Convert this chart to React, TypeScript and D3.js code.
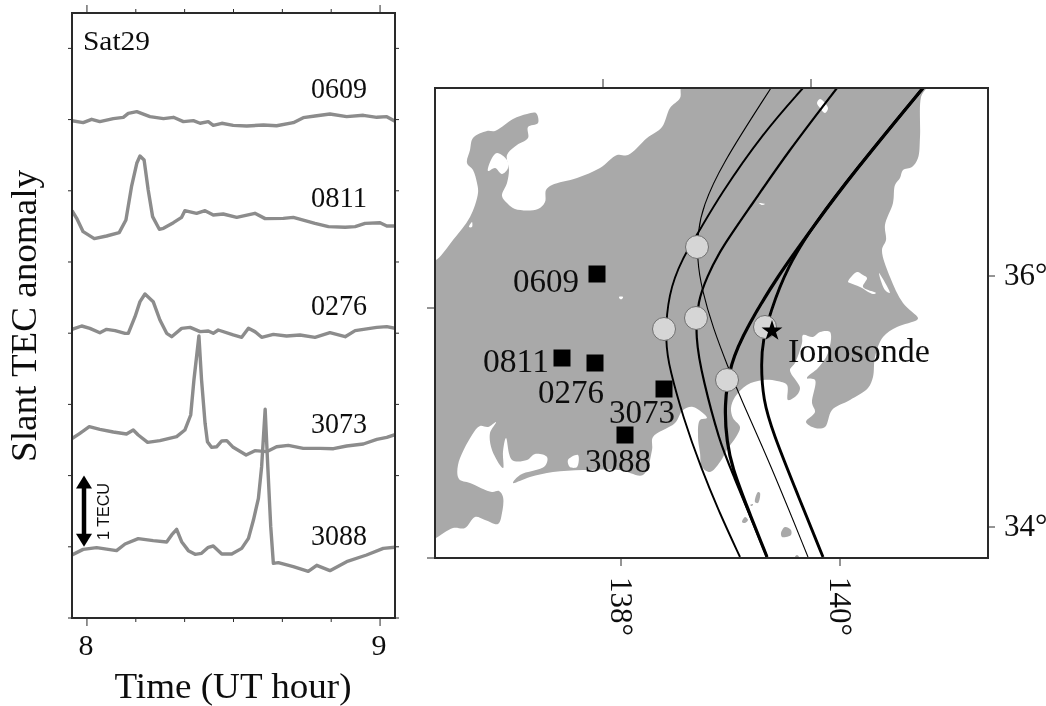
import React from "react";
import * as d3 from "d3";

// ---- Left panel: slant TEC anomaly (hours UT, TECU with station offset)
const t0609 = [7.949,7.987,8.016,8.044,8.09,8.124,8.141,8.17,8.215,8.261,8.295,8.329,8.363,8.386,8.414,8.431,8.46,8.499,8.545,8.602,8.647,8.704,8.738,8.778,8.829,8.886,8.943,8.989,9.023,9.051];
const v0609 = [6.985,6.957,7.004,6.971,7.013,7.032,7.088,7.111,7.041,7.013,7.032,6.971,6.985,6.948,6.971,6.919,6.948,6.919,6.91,6.924,6.914,6.957,7.027,7.051,7.079,7.041,7.06,7.032,7.041,6.976];
const t0811 = [7.949,7.965,7.987,8.025,8.067,8.11,8.133,8.152,8.17,8.181,8.195,8.209,8.224,8.247,8.261,8.295,8.323,8.334,8.374,8.403,8.431,8.465,8.511,8.573,8.608,8.67,8.704,8.778,8.824,8.881,8.915,8.949,9.0,9.023,9.051];
const v0811 = [5.721,5.613,5.426,5.328,5.365,5.412,5.59,6.058,6.386,6.489,6.433,6.011,5.637,5.459,5.473,5.552,5.627,5.721,5.684,5.721,5.66,5.674,5.627,5.684,5.609,5.613,5.627,5.543,5.496,5.487,5.496,5.543,5.552,5.506,5.506];
const t0276 = [7.949,7.982,8.01,8.044,8.067,8.096,8.13,8.141,8.164,8.181,8.198,8.226,8.249,8.272,8.289,8.323,8.352,8.386,8.414,8.431,8.448,8.499,8.528,8.551,8.573,8.596,8.636,8.681,8.727,8.778,8.829,8.881,8.915,8.966,8.989,9.023,9.051];
const v0276 = [4.054,4.101,4.068,4.007,4.054,4.036,3.998,3.998,4.232,4.443,4.551,4.443,4.185,3.998,3.951,4.068,4.082,4.022,4.031,3.998,4.045,3.975,3.942,4.068,4.022,3.942,3.984,3.961,3.975,3.942,4.007,3.951,4.036,4.068,4.082,4.092,4.068];
const t3073 = [7.949,7.976,8.008,8.044,8.09,8.135,8.158,8.175,8.207,8.249,8.306,8.334,8.354,8.365,8.382,8.391,8.403,8.411,8.425,8.443,8.46,8.477,8.499,8.543,8.573,8.613,8.647,8.687,8.738,8.795,8.841,8.886,8.943,8.989,9.023,9.051];
const v3073 = [2.519,2.594,2.687,2.65,2.612,2.584,2.64,2.57,2.467,2.491,2.547,2.64,2.851,3.343,3.961,3.343,2.734,2.477,2.397,2.406,2.486,2.491,2.397,2.289,2.35,2.336,2.406,2.425,2.383,2.383,2.378,2.416,2.444,2.509,2.537,2.575];
const t3088 = [7.949,7.987,8.033,8.101,8.13,8.175,8.226,8.272,8.289,8.306,8.323,8.346,8.369,8.391,8.414,8.431,8.46,8.494,8.528,8.551,8.568,8.585,8.596,8.608,8.617,8.627,8.636,8.653,8.704,8.755,8.784,8.829,8.886,8.954,9.011,9.051];
const v3088 = [0.885,0.964,0.988,0.946,1.039,1.114,1.086,1.067,1.166,1.245,1.072,0.946,0.894,0.908,0.993,1.011,0.899,0.899,0.978,1.119,1.376,1.681,2.125,2.931,2.125,1.283,0.768,0.777,0.721,0.655,0.74,0.665,0.791,0.885,0.978,0.993];
const stationLabels = ["0609","0811","0276","3073","3088"];
const stationLabelV = [7.3,5.77,4.25,2.6,1.02];
const timeMajor = [8,9];
const timeMinor = [8.1667,8.3333,8.5,8.6667,8.8333];
const anomalyTicks = [0,1,2,3,4,5,6,7,8];

// ---- Right panel: map, in map units measured from the frame's top-left
type P = [number, number];
const land: P[] = [[-4,172],[1,172],[18,152],[35,129],[43,105],[42,95],[38,82],[32,75],[35,62],[38,50],[52,43],[60,43],[78,31],[92,26],[101,25],[103,35],[93,39],[93,50],[82,57],[72,67],[74,82],[72,95],[67,108],[72,115],[80,121],[103,121],[110,114],[111,102],[117,97],[142,90],[165,80],[182,67],[193,67],[212,50],[227,39],[235,20],[245,10],[248,-4],[492,-4],[486,9],[485,49],[483,70],[477,79],[468,82],[465,90],[460,97],[458,115],[450,137],[451,152],[447,162],[455,189],[468,215],[483,230],[482,232],[462,239],[448,249],[440,269],[438,289],[433,300],[415,312],[397,322],[390,339],[380,340],[371,334],[380,324],[377,315],[380,292],[372,290],[383,280],[393,265],[395,244],[385,244],[378,249],[368,247],[367,255],[360,275],[355,282],[362,294],[365,300],[362,307],[353,312],[352,297],[342,293],[328,292],[312,297],[300,309],[296,320],[298,330],[305,339],[301,349],[293,360],[285,374],[275,384],[267,379],[265,365],[263,349],[265,332],[272,330],[258,319],[248,322],[240,335],[218,349],[217,362],[208,387],[185,382],[148,382],[118,384],[95,389],[78,395],[85,387],[110,378],[112,369],[100,366],[92,372],[77,372],[71,350],[68,364],[68,380],[57,362],[55,345],[61,334],[53,339],[45,338],[37,347],[23,377],[24,391],[35,395],[57,404],[64,403],[68,409],[67,425],[63,436],[50,432],[40,429],[30,440],[18,440],[1,450],[-4,452]];
const islands: P[][] = [
  [[346,445],[350,439],[356,442],[356,447],[351,449],[347,449]],
  [[320,414],[323,404],[325,405],[323,415]],
  [[307,434],[310,429],[313,432],[310,435]],
  [[315,417],[318,416],[317,418]],
  [[360,469],[362,467],[364,469]],
];
const lakes: P[][] = [
  [[57,70],[62,65],[72,72],[73,80],[67,86],[60,80],[53,83]],
  [[34,139],[37,134],[37,139]],
  [[184,209],[188,209],[187,211],[185,211]],
  [[382,15],[385,11],[393,20],[390,25],[385,20]],
  [[324,115],[330,116],[327,117]],
  [[413,194],[422,184],[428,187],[432,190],[428,199],[441,205],[438,206],[425,199],[415,195]],
  [[444,185],[455,205],[450,202]],
  [[133,372],[143,367],[142,379],[135,379]],
];
const track0609: P[] = [[336,0],[285,79],[268,119],[263,142],[262,172],[267,202],[278,240],[293,279],[305,309],[335,375],[373,469]];
const track0811: P[] = [[368,0],[328,45],[285,107],[262,147],[248,169],[233,205],[230,255],[235,282],[248,329],[266,380],[285,426],[305,469]];
const track0276: P[] = [[402,0],[352,65],[318,115],[285,162],[272,189],[263,212],[260,249],[268,292],[285,355],[295,379],[332,469]];
const track3073: P[] = [[488,0],[418,85],[378,139],[342,189],[312,239],[295,275],[289,319],[292,355],[297,379],[312,419],[332,469]];
const track3088: P[] = [[488,0],[418,85],[380,135],[352,179],[335,225],[328,252],[326,275],[328,312],[338,345],[362,405],[388,469]];
const trackWidths = [1.1,1.9,2.2,3.2,2.9];
const ippPoints: P[] = [[262,159],[229,241],[261,230],[292,292],[330,239]];
const stationPoints: P[] = [[162,186],[127,270],[160,275],[229,301],[190,347]];
const mapLabels = ["0609","0811","0276","3073","3088"];
const mapLabelPos: P[] = [[78,204],[48,284],[103,315],[174,335],[150,384]];
const ionosonde: P = [337,243];
const lonTicks = [138,140];
const latTicks = [34,36];

const zip = (a: number[], b: number[]): P[] => a.map((t, i) => [t, b[i]]);
const serif = "'Liberation Serif', serif";

export default function App() {
  const x = d3.scaleLinear().domain([7.949, 9.051]).range([72, 395]);
  const y = d3.scaleLinear().domain([0, 8.497]).range([618, 13]);
  const trace = d3.line<P>().x(d => x(d[0])).y(d => y(d[1]));
  const series = [zip(t0609, v0609), zip(t0811, v0811), zip(t0276, v0276), zip(t3073, v3073), zip(t3088, v3088)];

  const mx = d3.scaleLinear().domain([0, 553]).range([435, 988]);
  const my = d3.scaleLinear().domain([0, 470]).range([88, 558]);
  const poly = d3.line<P>().x(d => mx(d[0])).y(d => my(d[1])).curve(d3.curveCatmullRomClosed.alpha(0.5));
  const curve = d3.line<P>().x(d => mx(d[0])).y(d => my(d[1])).curve(d3.curveBasis);
  const lonBottom = d3.scaleLinear().domain([138, 140]).range([186, 405]);
  const lonTop = d3.scaleLinear().domain([138, 140]).range([168, 376]);
  const latRight = d3.scaleLinear().domain([34, 36]).range([439, 188]);
  const latLeft = d3.scaleLinear().domain([34, 36]).range([470, 220]);
  const tracks = [track0609, track0811, track0276, track3073, track3088];
  const star = d3.symbol().type(d3.symbolStar).size(135)() as string;
  const frameC = "#2a2a2a";

  return (
    <svg width={1046} height={706} style={{ position: "absolute", left: 0, top: 0, background: "#fff" }}>
      <defs>
        <clipPath id="mapClip"><rect x={435} y={88} width={553} height={470} /></clipPath>
        <clipPath id="plotClip"><rect x={72} y={13} width={323} height={605} /></clipPath>
        <filter id="soft" x="0" y="0" width="100%" height="100%"><feGaussianBlur stdDeviation={0.45} /></filter>
      </defs>
      <g filter="url(#soft)">
      <rect x={0} y={0} width={1046} height={706} fill="#fff" />

      {/* left panel */}
      <g clipPath="url(#plotClip)">
        {series.map((s, i) => (
          <path key={i} d={trace(s) as string} fill="none" stroke="#8c8c8c" strokeWidth={3.4} strokeLinejoin="round" />
        ))}
      </g>
      <rect x={72} y={13} width={323} height={605} fill="none" stroke={frameC} strokeWidth={2} />
      {timeMajor.map(t => (
        <g key={t} stroke={frameC} strokeWidth={1}>
          <line x1={x(t)} x2={x(t)} y1={13} y2={5} />
          <line x1={x(t)} x2={x(t)} y1={618} y2={626} />
        </g>
      ))}
      {timeMinor.map(t => (
        <g key={t} stroke={frameC} strokeWidth={1}>
          <line x1={x(t)} x2={x(t)} y1={13} y2={9} />
          <line x1={x(t)} x2={x(t)} y1={618} y2={622} />
        </g>
      ))}
      {anomalyTicks.map(v => (
        <g key={v} stroke={frameC} strokeWidth={1}>
          <line x1={68} x2={72} y1={y(v)} y2={y(v)} />
          <line x1={395} x2={399} y1={y(v)} y2={y(v)} />
        </g>
      ))}
      {timeMajor.map(t => (
        <text key={t} x={x(t) - 1} y={655} textAnchor="middle" fontFamily={serif} fontSize={30} fill="#111">{t}</text>
      ))}
      <text x={233} y={698} textAnchor="middle" fontFamily={serif} fontSize={36} textLength={237} lengthAdjust="spacingAndGlyphs" fill="#111">Time (UT hour)</text>
      <text transform="translate(36,316) rotate(-90)" textAnchor="middle" fontFamily={serif} fontSize={36} textLength={292} lengthAdjust="spacingAndGlyphs" fill="#111">Slant TEC anomaly</text>
      <text x={83} y={50} fontFamily={serif} fontSize={28} textLength={67} lengthAdjust="spacingAndGlyphs" fill="#111">Sat29</text>
      {stationLabels.map((s, i) => (
        <text key={s} x={367} y={y(stationLabelV[i])} textAnchor="end" fontFamily={serif} fontSize={29} textLength={56} lengthAdjust="spacingAndGlyphs" fill="#111">{s}</text>
      ))}
      <g fill="#000" stroke="#000">
        <line x1={84} x2={84} y1={y(2)+10} y2={y(1)-10} strokeWidth={4.5} />
        <path d={d3.line()([[84,y(2)],[76,y(2)+13],[92,y(2)+13]]) + "Z"} stroke="none" />
        <path d={d3.line()([[84,y(1)],[76,y(1)-13],[92,y(1)-13]]) + "Z"} stroke="none" />
      </g>
      <text transform="translate(108.5,540) rotate(-90)" fontFamily="'Liberation Sans', sans-serif" fontSize={17} textLength={57} lengthAdjust="spacingAndGlyphs" fill="#111">1 TECU</text>

      {/* right panel */}
      <g clipPath="url(#mapClip)">
        <path d={poly(land) as string} fill="#a9a9a9" />
        {lakes.map((l, i) => <path key={i} d={poly(l) as string} fill="#fff" />)}
        {islands.map((l, i) => <path key={i} d={poly(l) as string} fill="#a9a9a9" />)}
        {tracks.map((t, i) => (
          <path key={i} d={curve(t) as string} fill="none" stroke="#000" strokeWidth={trackWidths[i]} />
        ))}
      </g>
      <rect x={435} y={88} width={553} height={470} fill="none" stroke={frameC} strokeWidth={2} />
      {lonTicks.map(l => (
        <g key={l} stroke={frameC} strokeWidth={1}>
          <line x1={mx(lonTop(l))} x2={mx(lonTop(l))} y1={88} y2={79} />
          <line x1={mx(lonBottom(l))} x2={mx(lonBottom(l))} y1={558} y2={566} />
        </g>
      ))}
      {latTicks.map(l => (
        <g key={l} stroke={frameC} strokeWidth={1}>
          <line x1={427} x2={435} y1={my(latLeft(l))} y2={my(latLeft(l))} />
          <line x1={988} x2={995} y1={my(latRight(l))} y2={my(latRight(l))} />
          <text x={1004} y={my(latRight(l)) + 9} stroke="none" fontFamily={serif} fontSize={31} fill="#111">{l}°</text>
        </g>
      ))}
      {lonTicks.map(l => (
        <text key={l} transform={`translate(${mx(lonBottom(l)) - 10},577) rotate(90)`} fontFamily={serif} fontSize={31} fill="#111">{l}°</text>
      ))}
      {stationPoints.map((p, i) => (
        <rect key={i} x={mx(p[0]) - 8.5} y={my(p[1]) - 8.5} width={17} height={17} fill="#000" />
      ))}
      {ippPoints.map((p, i) => (
        <circle key={i} cx={mx(p[0])} cy={my(p[1])} r={11.5} fill="#d6d6d6" stroke="#6e6e6e" strokeWidth={1} />
      ))}
      <path d={star} transform={`translate(${mx(ionosonde[0])},${my(ionosonde[1])})`} fill="#000" />
      {mapLabels.map((s, i) => (
        <text key={s} x={mx(mapLabelPos[i][0])} y={my(mapLabelPos[i][1])} fontFamily={serif} fontSize={33} textLength={66} lengthAdjust="spacingAndGlyphs" fill="#111">{s}</text>
      ))}
      <text x={788} y={362} fontFamily={serif} fontSize={33} textLength={142} lengthAdjust="spacingAndGlyphs" fill="#111">Ionosonde</text>
      </g>
    </svg>
  );
}
